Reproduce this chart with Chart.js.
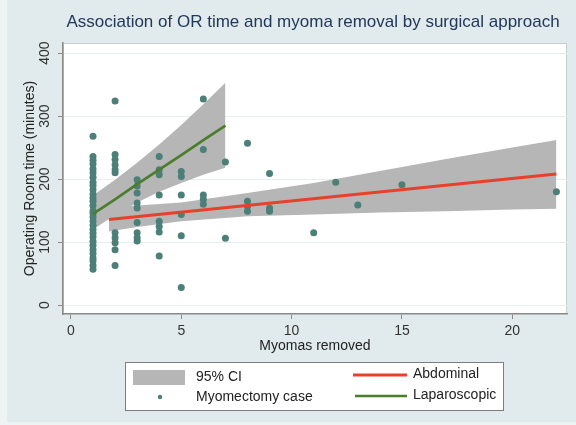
<!DOCTYPE html>
<html>
<head>
<meta charset="utf-8">
<title>OR time and myoma removal</title>
<script src="https://cdn.jsdelivr.net/npm/chart.js@4.4.1/dist/chart.umd.min.js"></script>
<style>
  html, body { margin: 0; padding: 0; background: #e1ebed; }
  canvas { display: block; }
</style>
</head>
<body>
<canvas id="orChart" width="576" height="425"></canvas>
<script>
// myomas removed per case, and OR minutes for the cases at each count
var myomaCounts = [1, 2, 3, 4, 5, 6, 7, 8, 9, 11, 12, 13, 15, 22];
var orMinutes = [
  [268, 236, 230, 224, 216, 210, 203, 195, 190, 183, 176, 170, 165, 158, 150, 146, 140, 133, 127, 120, 114, 108, 101, 95, 88, 82, 75, 70, 63, 57],
  [324, 239, 231, 223, 215, 210, 115, 107, 99, 88, 63],
  [199, 189, 178, 162, 154, 131, 115, 107, 102],
  [236, 215, 207, 175, 133, 125, 116, 78],
  [212, 204, 175, 144, 110, 28],
  [327, 247, 175, 168, 160],
  [227, 106],
  [257, 165, 157, 149],
  [209, 154, 149],
  [115],
  [195],
  [159],
  [191],
  [180]
];

// laparoscopic fit and 95% CI
var lapX = [1, 2, 3, 4, 5, 6, 7];
var lapFit = [145, 168, 192, 215, 238, 262, 285];
var lapUpper = [174, 199, 226, 255, 286, 319, 353];
var lapLower = [120, 143, 163, 180, 194, 207, 218];

// abdominal fit and 95% CI
var abdX = [1.72, 3, 5, 8, 11, 14, 17, 20, 22];
var abdFitX = [1.72, 22];
var abdFit = [136, 208];
var abdUpper = [156, 158, 163, 178, 194, 213, 232, 250, 262];
var abdLower = [117, 124, 133, 141, 144, 147, 149, 152, 153];

var xTickValues = [0, 5, 10, 15, 20];
var yTickValues = [0, 100, 200, 300, 400];

var FONT = '"Liberation Sans", Arial, Helvetica, sans-serif';
var CI_GRAY = '#b6b6b6';
var DOT = '#4b7f77';
var RED = '#e8412b';
var GREEN = '#4a7d2c';
var AXIS = '#8a8a8a';

function pairs(xs, ys) {
  return xs.map(function (x, i) { return { x: x, y: ys[i] }; });
}

var cases = [];
myomaCounts.forEach(function (n, i) {
  orMinutes[i].forEach(function (t) { cases.push({ x: n, y: t }); });
});

function band(data, fill) {
  return {
    data: data, fill: fill, backgroundColor: CI_GRAY, borderWidth: 0,
    pointRadius: 0, tension: 0, order: 3
  };
}

var framePlugin = {
  id: 'frame',
  beforeDraw: function (chart) {
    var ctx = chart.ctx, a = chart.chartArea;
    ctx.save();
    ctx.fillStyle = '#eef3f4';
    ctx.fillRect(0, 0, chart.width, chart.height);
    ctx.fillStyle = '#e1ebed';
    ctx.fillRect(7, 0, chart.width - 7, 422);
    ctx.fillStyle = '#ffffff';
    ctx.fillRect(a.left, a.top, a.right - a.left, a.bottom - a.top);
    ctx.strokeStyle = '#c6cecf';
    ctx.lineWidth = 1;
    ctx.strokeRect(a.left + 0.5, a.top + 0.5, a.right - a.left - 1, a.bottom - a.top - 1);
    ctx.restore();
  },
  afterDraw: function (chart) {
    var ctx = chart.ctx, a = chart.chartArea;
    ctx.save();
    // graph title, centred over the plot region
    ctx.font = '17px ' + FONT;
    ctx.fillStyle = '#22385a';
    ctx.textAlign = 'center';
    ctx.textBaseline = 'middle';
    ctx.fillText('Association of OR time and myoma removal by surgical approach', (a.left + a.right) / 2 - 2, 22);

    // legend box
    ctx.fillStyle = '#ffffff';
    ctx.fillRect(125.5, 362.5, 378, 48);
    ctx.strokeStyle = '#7d7d7d';
    ctx.lineWidth = 1;
    ctx.strokeRect(125.5, 362.5, 378, 48);
    ctx.beginPath();
    ctx.rect(126, 363, 377, 47);
    ctx.clip();

    ctx.fillStyle = CI_GRAY;
    ctx.fillRect(133, 370, 52, 15);
    ctx.fillStyle = DOT;
    ctx.beginPath();
    ctx.arc(160, 397, 2.2, 0, Math.PI * 2);
    ctx.fill();

    ctx.lineWidth = 3;
    ctx.strokeStyle = RED;
    ctx.beginPath(); ctx.moveTo(353, 375); ctx.lineTo(407, 375); ctx.stroke();
    ctx.lineWidth = 2.5;
    ctx.strokeStyle = GREEN;
    ctx.beginPath(); ctx.moveTo(355, 396); ctx.lineTo(407, 396); ctx.stroke();

    ctx.font = '14px ' + FONT;
    ctx.fillStyle = '#222222';
    ctx.textAlign = 'left';
    ctx.fillText('95% CI', 196, 377);
    ctx.fillText('Myomectomy case', 196, 397);
    ctx.fillText('Abdominal', 413, 374);
    ctx.fillText('Laparoscopic', 413, 395);
    ctx.restore();
  }
};

new Chart('orChart', {
  type: 'line',
  data: {
    datasets: [
      band(pairs(lapX, lapUpper), '+1'),
      band(pairs(lapX, lapLower), false),
      band(pairs(abdX, abdUpper), '+1'),
      band(pairs(abdX, abdLower), false),
      {
        label: 'Myomectomy case',
        data: cases,
        showLine: false,
        pointRadius: 3.5,
        pointBackgroundColor: DOT,
        pointBorderColor: DOT,
        pointBorderWidth: 0,
        order: 2
      },
      {
        label: 'Abdominal',
        data: pairs(abdFitX, abdFit),
        borderColor: RED, borderWidth: 3, pointRadius: 0, fill: false, order: 1
      },
      {
        label: 'Laparoscopic',
        data: pairs(lapX, lapFit),
        borderColor: GREEN, borderWidth: 2.6, pointRadius: 0, fill: false, order: 1
      }
    ]
  },
  options: {
    responsive: false,
    animation: false,
    layout: { padding: { top: 43, right: 9, bottom: 70, left: 0 } },
    plugins: {
      legend: { display: false },
      title: { display: false },
      tooltip: { enabled: false }
    },
    scales: {
      x: {
        type: 'linear',
        min: -0.36,
        max: 22.48,
        afterBuildTicks: function (s) { s.ticks = xTickValues.map(function (v) { return { value: v }; }); },
        afterFit: function (s) { s.height = 41; },
        ticks: { font: { family: FONT, size: 14 }, color: '#333333', padding: 4, maxRotation: 0 },
        grid: { drawOnChartArea: false, tickLength: 5, tickColor: AXIS },
        border: { color: AXIS, width: 1.5 },
        title: {
          display: true, text: 'Myomas removed', color: '#222222',
          font: { family: FONT, size: 14 }, padding: { top: 0, bottom: 0 }
        }
      },
      y: {
        type: 'linear',
        min: -14,
        max: 416,
        afterBuildTicks: function (s) { s.ticks = yTickValues.map(function (v) { return { value: v }; }); },
        afterFit: function (s) { s.width = 63; },
        ticks: {
          font: { family: FONT, size: 14 }, color: '#333333', padding: 1,
          minRotation: 90, maxRotation: 90, crossAlign: 'center'
        },
        grid: { color: '#e6eeef', tickLength: 5, tickColor: AXIS },
        border: { color: AXIS, width: 1.5 },
        title: {
          display: true, text: 'Operating Room time (minutes)', color: '#222222',
          font: { family: FONT, size: 14 }, padding: { top: 21.5, bottom: 0 }
        }
      }
    }
  },
  plugins: [framePlugin]
});
</script>
</body>
</html>
